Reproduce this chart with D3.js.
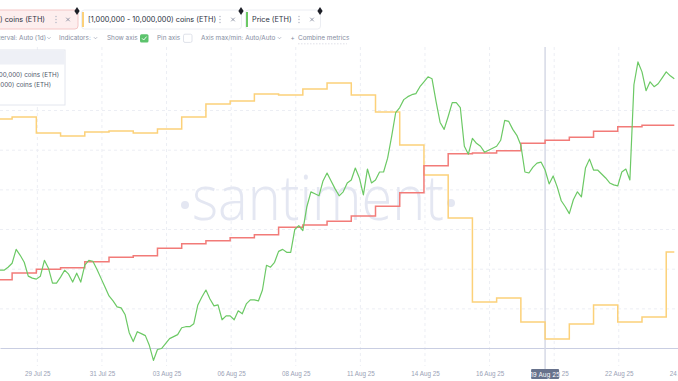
<!DOCTYPE html>
<html>
<head>
<meta charset="utf-8">
<script src="https://cdn.jsdelivr.net/npm/d3@7"></script>
<style>
  html, body { margin: 0; padding: 0; background: #fff; }
  svg { display: block; font-family: Inter, "Open Sans", sans-serif; }
</style>
</head>
<body>
<script>
const width = 678;
const height = 381;

// Metric names as shown in the pills
const metricNames = [
  "[100,000 - 1,000,000) coins (ETH)",
  "[1,000,000 - 10,000,000) coins (ETH)",
  "Price (ETH)"
];

// ETH price, one value every 4 hours from the start below
const priceStart = "2025-07-27T12:00";
const priceStepHours = 4;
const priceValues = [
  3795, 3795, 3810, 3830, 3900, 3870, 3835, 3765, 3755, 3750,
  3765, 3845, 3805, 3730, 3730, 3760, 3795, 3775, 3735, 3780,
  3735, 3820, 3845, 3840, 3800, 3755, 3710, 3665, 3640, 3610,
  3605, 3570, 3480, 3435, 3485, 3475, 3465, 3415, 3340, 3395,
  3400, 3425, 3450, 3460, 3470, 3505, 3510, 3510, 3525, 3620,
  3660, 3695, 3650, 3615, 3620, 3545, 3565, 3565, 3545, 3590,
  3575, 3625, 3645, 3645, 3640, 3695, 3820, 3810, 3835, 3890,
  3900, 3885, 3885, 4000, 4020, 3995, 4115, 4190, 4180, 4170,
  4245, 4285, 4245, 4205, 4170, 4190, 4235, 4250, 4310, 4260,
  4175, 4305, 4235, 4250, 4290, 4290, 4360, 4470, 4590, 4615,
  4655, 4670, 4680, 4685, 4720, 4745, 4770, 4760, 4645, 4540,
  4505, 4570, 4640, 4640, 4615, 4420, 4380, 4460, 4435, 4420,
  4390, 4400, 4410, 4420, 4450, 4550, 4545, 4505, 4475, 4425,
  4290, 4285, 4315, 4335, 4340, 4300, 4230, 4270, 4215, 4145,
  4115, 4080, 4150, 4190, 4165, 4310, 4355, 4300, 4300, 4280,
  4260, 4235, 4225, 4220, 4290, 4305, 4250, 4730, 4845, 4795,
  4700, 4745, 4720, 4735, 4765, 4795, 4775, 4760
];

// Daily balances (millions of ETH) from 27 Jul 2025 to 24 Aug 2025
const dayStart = "2025-07-27";
const holders100kTo1M = [
  18.91, 19.00, 19.05, 19.07, 19.15, 19.21, 19.23, 19.33, 19.39, 19.43,
  19.47, 19.51, 19.61, 19.64, 19.69, 19.76, 19.89, 20.07, 20.43, 20.59,
  20.60, 20.63, 20.73, 20.77, 20.81, 20.89, 20.95, 20.97, 20.97
];
const holders1MTo10M = [
  18.58, 18.62, 18.30, 18.24, 18.32, 18.34, 18.30, 18.38, 18.62, 18.88,
  18.94, 19.08, 19.06, 19.18, 19.30, 19.06, 18.72, 18.06, 17.46, 16.60,
  14.92, 15.00, 14.52, 14.18, 14.48, 14.86, 14.52, 14.62, 15.92
];

// x axis ticks
const tickDates = [
  "2025-07-29T01:00", "2025-07-31T17:00", "2025-08-03T09:00", "2025-08-06T01:00",
  "2025-08-08T17:00", "2025-08-11T09:00", "2025-08-14T01:00", "2025-08-16T17:00",
  "2025-08-19T09:00", "2025-08-22T01:00", "2025-08-24T17:00"
];
const tickLabels = [
  "29 Jul 25", "31 Jul 25", "03 Aug 25", "06 Aug 25", "08 Aug 25", "11 Aug 25",
  "14 Aug 25", "16 Aug 25", "19 Aug 25", "22 Aug 25", "24 Aug 25"
];
const crosshairDate = "2025-08-19T00:00";
const crosshairLabel = "19 Aug 25";

const colors = { small: "#f27b78", large: "#fcd179", price: "#6cc965" };

const parse = d3.timeParse("%Y-%m-%dT%H:%M");
const parseDay = d3.timeParse("%Y-%m-%d");

const priceData = priceValues.map((v, i) => ({
  date: d3.timeHour.offset(parse(priceStart), i * priceStepHours), value: v
}));
const lastDate = priceData[priceData.length - 1].date;
const days = d3.timeDay.range(parseDay(dayStart), d3.timeDay.offset(parseDay(dayStart), holders100kTo1M.length));
// step lines run on until the latest price sample
const stepData = vals => days.map((d, i) => ({ date: d, value: vals[i] }))
  .concat([{ date: lastDate, value: vals[vals.length - 1] }]);

const x = d3.scaleTime()
  .domain([parse("2025-07-27T12:00"), parse("2025-08-24T11:40")])
  .range([0, width]);
const yPrice = d3.scaleLinear().domain([3500, 4700]).range([328.7, 90.7]);
const ySmall = d3.scaleLinear().domain([18, 21]).range([348, 123]);
const yLarge = d3.scaleLinear().domain([14, 19.5]).range([348, 73]);

const svg = d3.select("body").append("svg")
  .attr("width", width)
  .attr("height", height);

// grid
const grid = svg.append("g").attr("stroke", "#eceef4").attr("stroke-dasharray", "3,3");
grid.selectAll("line.h")
  .data(yPrice.ticks(6))
  .enter().append("line")
  .attr("x1", 0).attr("x2", width)
  .attr("y1", d => yPrice(d)).attr("y2", d => yPrice(d));
grid.selectAll("line.v")
  .data(tickDates.map(parse))
  .enter().append("line")
  .attr("x1", d => x(d)).attr("x2", d => x(d))
  .attr("y1", 47).attr("y2", 366);

// watermark
const wm = svg.append("g").attr("fill", "#e4e7f2");
wm.append("text")
  .attr("x", 318).attr("y", 220)
  .attr("text-anchor", "middle")
  .attr("font-family", "'Open Sans', Lato, sans-serif")
  .attr("font-weight", 300)
  .attr("font-size", 62)
  .attr("textLength", 252)
  .attr("lengthAdjust", "spacingAndGlyphs")
  .text("santiment");
wm.append("circle").attr("cx", 185).attr("cy", 205).attr("r", 4);
wm.append("circle").attr("cx", 451).attr("cy", 203).attr("r", 4);

// x axis
const xAxis = svg.append("g")
  .attr("transform", "translate(0,348)")
  .call(d3.axisBottom(x)
    .tickValues(tickDates.map(parse))
    .tickFormat((d, i) => tickLabels[i])
    .tickSize(0)
    .tickPadding(23.5));
xAxis.select(".domain").attr("stroke", "#c9cee2").attr("stroke-width", 1.2);
xAxis.selectAll("text")
  .attr("fill", "#9aa2b6")
  .attr("font-size", 6.3);

// crosshair line
svg.append("line")
  .attr("x1", x(parse(crosshairDate))).attr("x2", x(parse(crosshairDate)))
  .attr("y1", 47).attr("y2", 370)
  .attr("stroke", "#d6d9e6").attr("stroke-width", 1.5);

// series
const stepLine = yScale => d3.line()
  .x(d => x(d.date))
  .y(d => yScale(d.value))
  .curve(d3.curveStepAfter);

svg.append("path")
  .datum(stepData(holders1MTo10M))
  .attr("fill", "none")
  .attr("stroke", colors.large)
  .attr("stroke-width", 1.5)
  .attr("d", stepLine(yLarge));

svg.append("path")
  .datum(stepData(holders100kTo1M))
  .attr("fill", "none")
  .attr("stroke", colors.small)
  .attr("stroke-width", 1.5)
  .attr("d", stepLine(ySmall));

svg.append("path")
  .datum(priceData)
  .attr("fill", "none")
  .attr("stroke", colors.price)
  .attr("stroke-width", 1.2)
  .attr("stroke-linejoin", "round")
  .attr("d", d3.line().x(d => x(d.date)).y(d => yPrice(d.value)));

// crosshair date label
const cx = x(parse(crosshairDate));
svg.append("rect")
  .attr("x", cx - 14).attr("y", 369).attr("width", 28).attr("height", 10)
  .attr("rx", 1).attr("fill", "#67728c");
svg.append("text")
  .attr("x", cx).attr("y", 376.5)
  .attr("text-anchor", "middle")
  .attr("fill", "#fff")
  .attr("font-size", 6.3)
  .text(crosshairLabel);

// tooltip box at left
const tip = svg.append("g");
tip.append("rect").attr("x", -5).attr("y", 50).attr("width", 70).attr("height", 55)
  .attr("fill", "#fff").attr("stroke", "#e3e6ee");
tip.append("rect").attr("x", -5).attr("y", 50.5).attr("width", 69.5).attr("height", 14)
  .attr("fill", "#eef0f6");
tip.selectAll("text.row")
  .data([metricNames[1], metricNames[0]])
  .enter().append("text")
  .attr("x", (d, i) => [59, 51][i])
  .attr("y", (d, i) => 77.3 + i * 9.3)
  .attr("text-anchor", "end")
  .attr("font-size", 6.3)
  .attr("fill", "#4e566a")
  .text(d => d);

// metric pills
const pills = svg.append("g");
pills.append("rect").attr("x", -10).attr("y", 10).attr("width", 88).attr("height", 19)
  .attr("rx", 3).attr("fill", "#fdeeee").attr("stroke", "#f4c6c6");
pills.append("rect").attr("x", 81.5).attr("y", 10).attr("width", 160).attr("height", 19)
  .attr("rx", 3).attr("fill", "#fff").attr("stroke", "#eceef3");
pills.append("rect").attr("x", 245.5).attr("y", 10).attr("width", 75).attr("height", 19)
  .attr("rx", 3).attr("fill", "#fff").attr("stroke", "#eceef3");
pills.append("rect").attr("x", 82).attr("y", 12).attr("width", 2).attr("height", 15).attr("fill", colors.large);
pills.append("rect").attr("x", 246).attr("y", 12).attr("width", 2).attr("height", 15).attr("fill", colors.price);

const pillText = [
  { name: metricNames[0], x: 45, anchor: "end", dots: 56, close: 68, pin: 77 },
  { name: metricNames[1], x: 88, anchor: "start", dots: 220, close: 233, pin: 241 },
  { name: metricNames[2], x: 252, anchor: "start", dots: 299, close: 312, pin: 320 }
];
pillText.forEach(p => {
  pills.append("text")
    .attr("x", p.x).attr("y", 21.8)
    .attr("text-anchor", p.anchor)
    .attr("font-size", 7.3)
    .attr("fill", "#2c3242")
    .text(p.name);
  [16.5, 19.5, 22.5].forEach(cy => pills.append("circle")
    .attr("cx", p.dots).attr("cy", cy).attr("r", 0.7).attr("fill", "#aeb3c2"));
  pills.append("path")
    .attr("d", `M${p.close - 1.8},${17.7}L${p.close + 1.8},${21.3}M${p.close + 1.8},${17.7}L${p.close - 1.8},${21.3}`)
    .attr("stroke", "#7d8498").attr("stroke-width", 0.8);
  pills.append("path")
    .attr("d", `M${p.pin},${7}L${p.pin + 2.6},${11}L${p.pin},${15}L${p.pin - 2.6},${11}Z`)
    .attr("fill", "#1d1f27");
});

// toolbar row
const bar = svg.append("g").attr("font-size", 6.4).attr("fill", "#868da1");
const chevron = cx0 => bar.append("path")
  .attr("d", `M${cx0 - 1.6},${37.2}L${cx0},${38.8}L${cx0 + 1.6},${37.2}`)
  .attr("fill", "none").attr("stroke", "#9aa1b3").attr("stroke-width", 0.7);
bar.append("text").attr("x", 46).attr("y", 40.4).attr("text-anchor", "end").text("Interval: Auto (1d)");
chevron(49);
bar.append("text").attr("x", 59).attr("y", 40.4).text("Indicators:");
chevron(95.5);
bar.append("text").attr("x", 107).attr("y", 40.4).text("Show axis");
bar.append("rect").attr("x", 140).attr("y", 34.2).attr("width", 8.5).attr("height", 8.2)
  .attr("rx", 1.5).attr("fill", "#5cc36c");
bar.append("path").attr("d", "M142,38.3L143.7,40L146.6,36.6")
  .attr("fill", "none").attr("stroke", "#fff").attr("stroke-width", 0.9);
bar.append("text").attr("x", 157).attr("y", 40.4).text("Pin axis");
bar.append("rect").attr("x", 183.5).attr("y", 34.2).attr("width", 8.5).attr("height", 8.2)
  .attr("rx", 1.5).attr("fill", "#fff").attr("stroke", "#dfe2ea");
bar.append("text").attr("x", 201).attr("y", 40.4).text("Axis max/min: Auto/Auto");
chevron(279.5);
bar.append("text").attr("x", 290.5).attr("y", 40.4).text("+");
bar.append("text").attr("x", 298).attr("y", 40.4).text("Combine metrics");
bar.append("line").attr("x1", 298).attr("x2", 347).attr("y1", 43.8).attr("y2", 43.8)
  .attr("stroke", "#c9cdd8").attr("stroke-width", 0.6).attr("stroke-dasharray", "1.5,1.5");
</script>
</body>
</html>
